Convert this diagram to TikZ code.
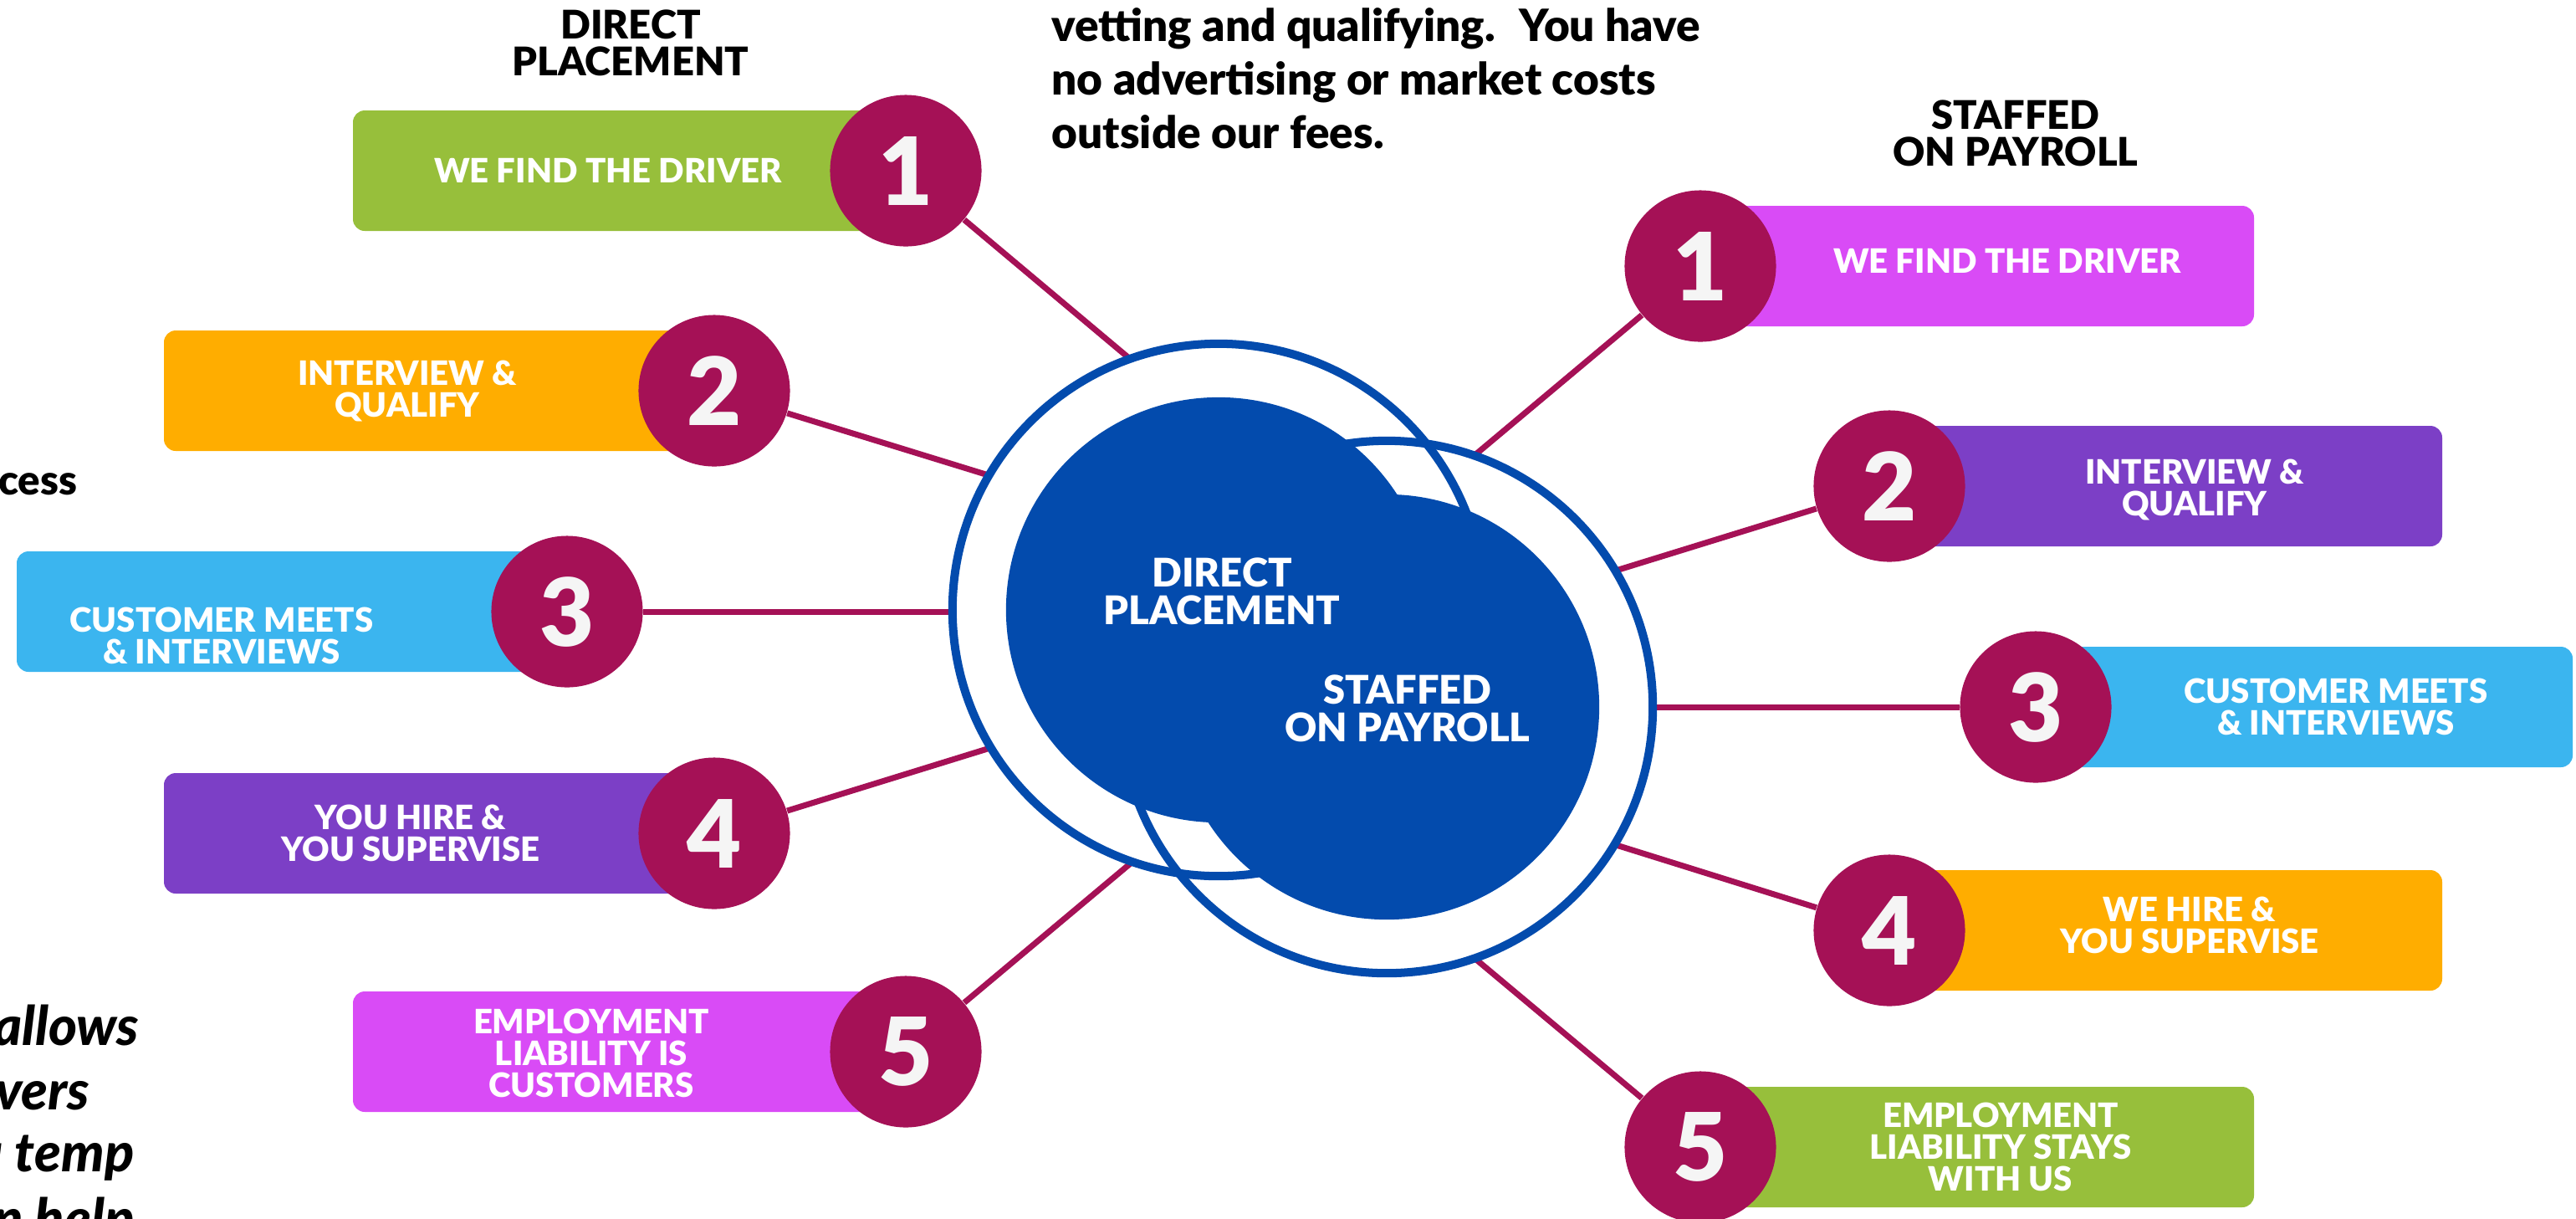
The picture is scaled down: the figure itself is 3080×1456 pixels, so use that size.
\documentclass[tikz,border=0pt]{standalone}
\usepackage{fontspec}
\setmainfont{Lato}[BoldFont={Lato Black}, BoldItalicFont={Lato Black Italic}]
\usetikzlibrary{positioning}

\definecolor{numred}{HTML}{A51156}
\definecolor{hubblue}{HTML}{034BAD}
\definecolor{stepgreen}{HTML}{97BF3B}
\definecolor{steporange}{HTML}{FFAD00}
\definecolor{stepsky}{HTML}{3BB5EF}
\definecolor{steppurple}{HTML}{7C3FC6}
\definecolor{steporchid}{HTML}{D94BF6}

\begin{document}
\begin{tikzpicture}[x=0.01cm,y=-0.01cm,
    badge/.style={circle, fill=numred, text=white!96!black, minimum size=1.81cm, inner sep=0pt,
                  font=\bfseries\fontsize{32}{32}\selectfont},
    bartext/.style={text=white, align=center, font=\bfseries\fontsize{11.4}{10.8}\selectfont},
    heading/.style={align=center, font=\bfseries\fontsize{13.4}{12.5}\selectfont},
    spoke/.style={draw=numred, line width=2pt},
    ring/.style={draw=hubblue, line width=2.85pt}]

	% Page
	\useasboundingbox (0,0) rectangle (3080,1456);
	\clip (0,0) rectangle (3080,1456);

	% Direct placement steps
	\foreach \n/\x/\y/\w/\c in {1/1083/204/661/stepgreen, 2/854/467/658/steporange,
	                            3/678/731/658/stepsky, 4/854/996/658/steppurple,
	                            5/1083/1257/661/steporchid} {
		\fill[\c, rounded corners=4pt] (\x-\w,\y-72) rectangle (\x,\y+72);
		\node[badge] (dp\n) at (\x,\y) {\n};
	}
	\node[bartext] (dptext1) at (727,204) {WE FIND THE DRIVER};
	\node[bartext] (dptext2) at (487,467) {INTERVIEW \&\\QUALIFY};
	\node[bartext] (dptext3) at (265,760) {CUSTOMER MEETS\\\& INTERVIEWS};
	\node[bartext] (dptext4) at (491,996) {YOU HIRE \&\\YOU SUPERVISE};
	\node[bartext] (dptext5) at (707,1259) {EMPLOYMENT\\LIABILITY IS\\CUSTOMERS};

	% Staffed steps
	\foreach \n/\x/\y/\w/\c in {1/2033/318/662/steporchid, 2/2259/581/661/steppurple,
	                            3/2434/845/642/stepsky, 4/2259/1112/661/steporange,
	                            5/2033/1371/662/stepgreen} {
		\fill[\c, rounded corners=4pt] (\x,\y-72) rectangle (\x+\w,\y+72);
		\node[badge] (sp\n) at (\x,\y) {\n};
	}
	\node[bartext] (sptext1) at (2400,312) {WE FIND THE DRIVER};
	\node[bartext] (sptext2) at (2624,585) {INTERVIEW \&\\QUALIFY};
	\node[bartext] (sptext3) at (2793,845) {CUSTOMER MEETS\\\& INTERVIEWS};
	\node[bartext] (sptext4) at (2618,1106) {WE HIRE \&\\YOU SUPERVISE};
	\node[bartext] (sptext5) at (2392,1371) {EMPLOYMENT\\LIABILITY STAYS\\WITH US};

	% Spokes
	\coordinate (dphub) at (1711,731);
	\coordinate (sphub) at (1404,845);
	\foreach \n in {1,...,5} {
		\draw[spoke] (dp\n) -- (dphub);
		\draw[spoke] (sp\n) -- (sphub);
	}

	% Centre circles
	\coordinate (dpc) at (1457,729);
	\coordinate (spc) at (1658,845);
	\fill[white] (dpc) circle[radius=3.18cm];
	\fill[white] (spc) circle[radius=3.18cm];
	\draw[ring] (dpc) circle[radius=3.18cm];
	\draw[ring] (spc) circle[radius=3.18cm];
	\fill[hubblue] (dpc) circle[radius=2.54cm];
	\fill[hubblue] (spc) circle[radius=2.54cm];
	\node[heading, text=white, font=\bfseries\fontsize{13.4}{12.8}\selectfont] (dpname) at (1461,707) {DIRECT\\PLACEMENT};
	\node[heading, text=white, font=\bfseries\fontsize{13.4}{12.8}\selectfont] (spname) at (1683,847) {STAFFED\\ON PAYROLL};

	% Headings
	\node[heading] (dphead) at (754,51) {DIRECT\\PLACEMENT};
	\node[heading] (sphead) at (2410,159) {STAFFED\\ON PAYROLL};

	% Side text
	\node[anchor=north west, align=left, inner sep=0pt,
	      font=\bfseries\fontsize{15.1}{18.2}\selectfont] (intro) at (1257,9)
	      {vetting and qualifying.~ You have\\no advertising or market costs\\outside our fees.};
	\node[anchor=base east, inner sep=0pt, font=\bfseries\fontsize{14}{14}\selectfont] (proc) at (93,591) {cess};
	\node[anchor=base east, inner sep=0pt, font=\bfseries\itshape\fontsize{18.5}{21}\selectfont] (note1) at (167,1249) {allows};
	\node[anchor=base east, inner sep=0pt, font=\bfseries\itshape\fontsize{18.5}{21}\selectfont] (note2) at (108,1326) {vers};
	\node[anchor=base east, inner sep=0pt, font=\bfseries\itshape\fontsize{18.5}{21}\selectfont] (note3) at (161,1400) {u temp};
	\node[anchor=base east, inner sep=0pt, font=\bfseries\itshape\fontsize{18.5}{21}\selectfont] (note4) at (161,1479) {n help};
\end{tikzpicture}
\end{document}
